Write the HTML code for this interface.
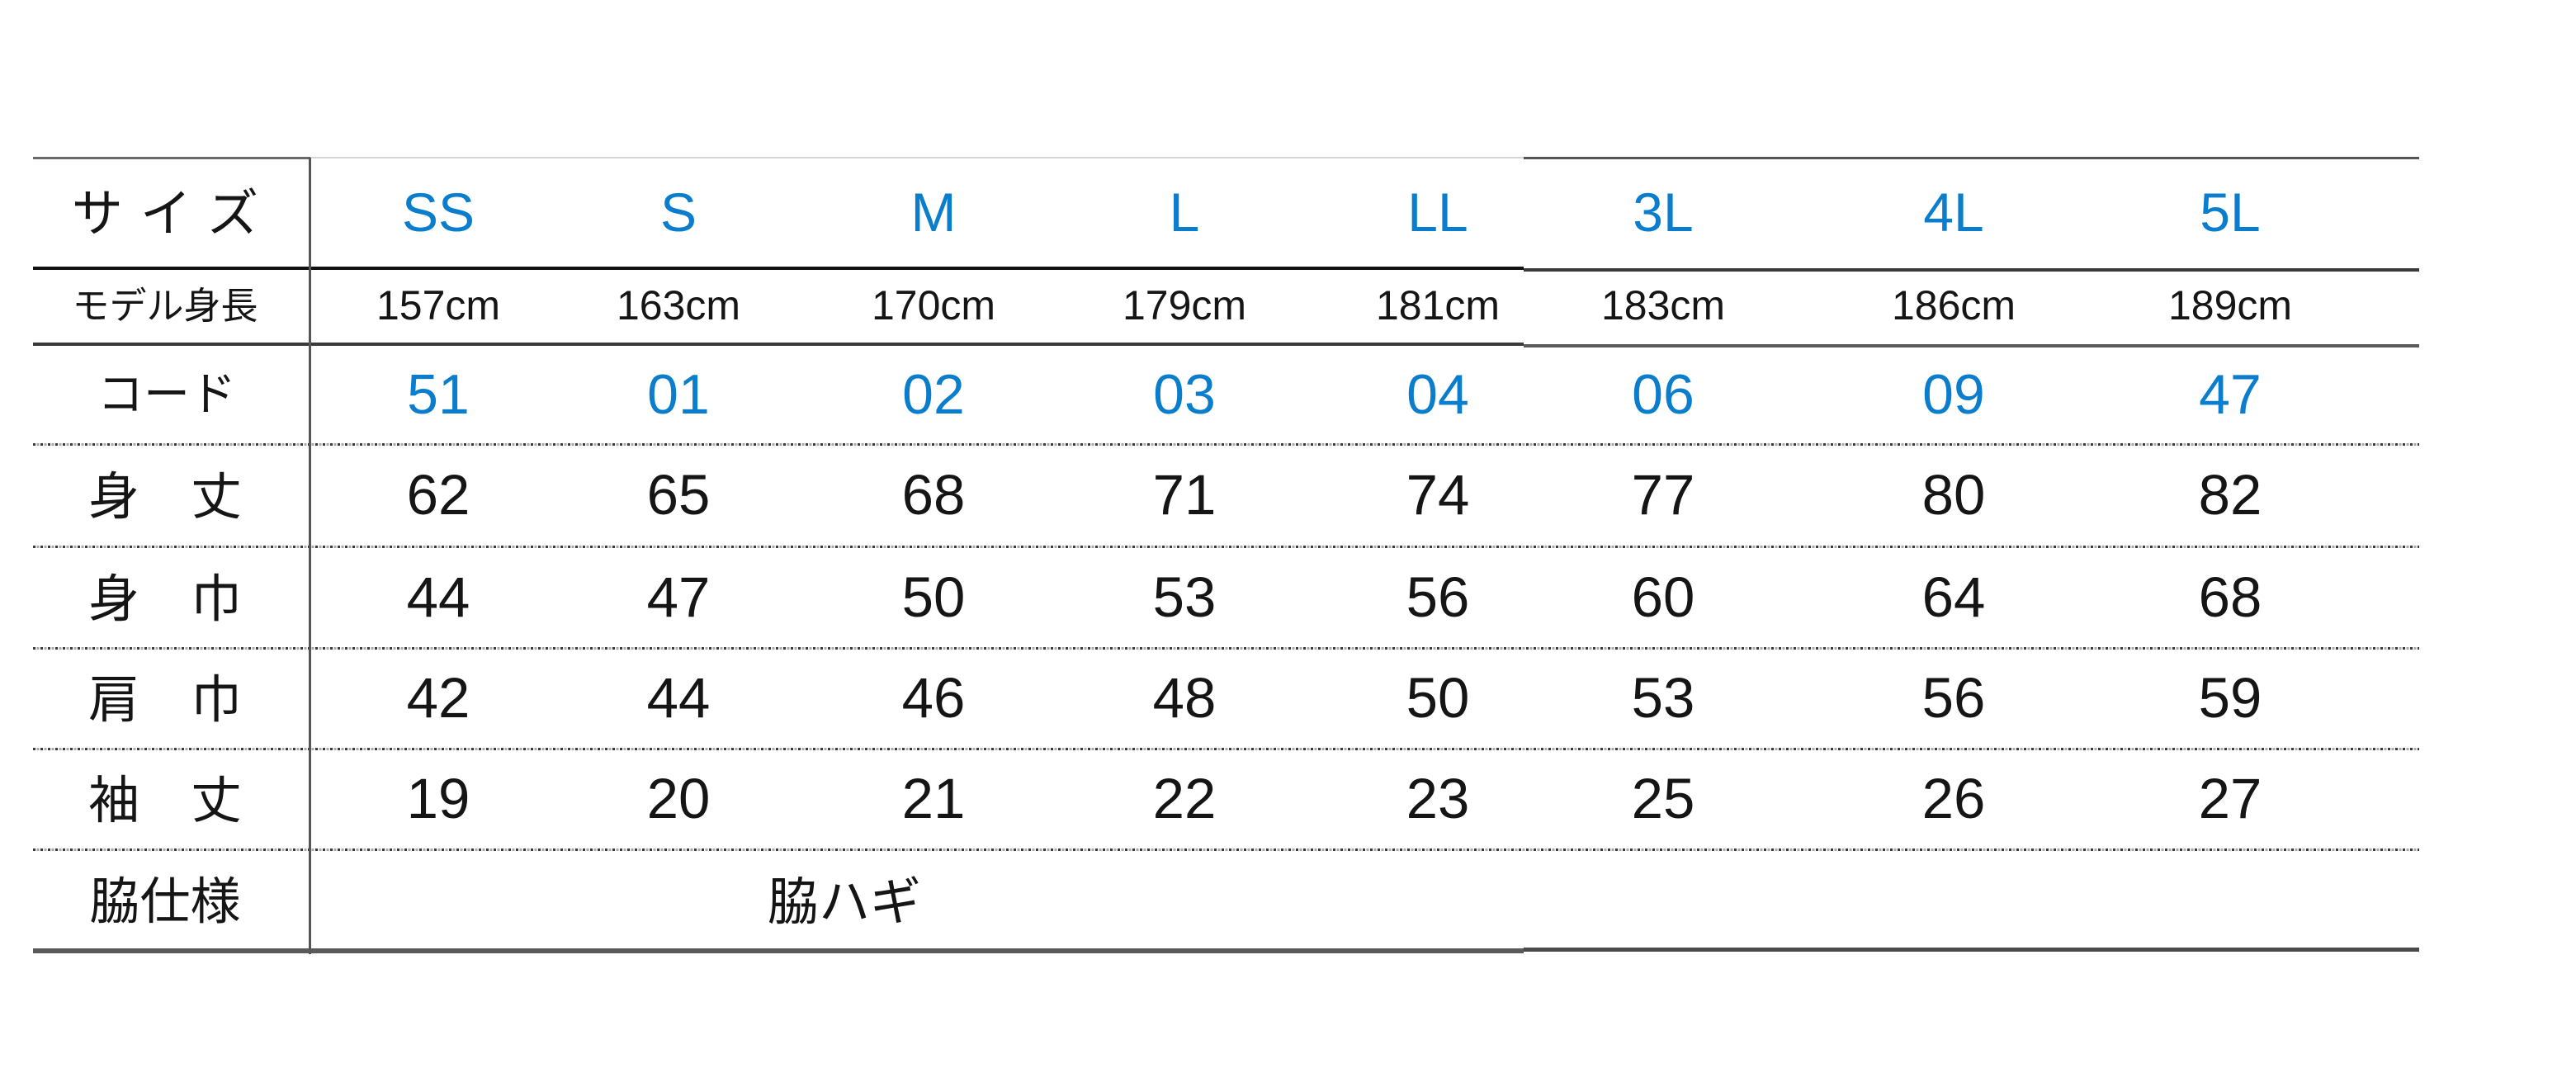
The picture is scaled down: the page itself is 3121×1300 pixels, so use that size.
<!DOCTYPE html>
<html>
<head>
<meta charset="utf-8">
<style>
html,body{margin:0;padding:0;background:#fff;}
body{width:3121px;height:1300px;position:relative;overflow:hidden;}
.t{position:absolute;width:300px;height:100px;line-height:100px;text-align:center;white-space:nowrap;font-family:"Liberation Sans","Noto Sans CJK JP",sans-serif;color:#151515;}
.b{color:#0a7dcc;font-size:66px;}
.c{font-size:50px;}
.n{font-size:69px;}
.j{font-family:"Noto Sans CJK JP","Liberation Sans",sans-serif;}
.l{position:absolute;}
.dot{position:absolute;left:40px;width:2891px;height:3px;background:repeating-linear-gradient(90deg,#3a3a3a 0,#3a3a3a 3px,#fff 3px,#fff 4.5px,#a8a8a8 4.5px,#a8a8a8 7.5px,#fff 7.5px,#fff 9px);}
</style>
</head>
<body>
<!-- top line -->
<div class="l" style="left:40px;top:190px;width:336px;height:3px;background:#6a6a6a;"></div>
<div class="l" style="left:376px;top:190px;width:1470px;height:2px;background:#d4d4d4;"></div>
<div class="l" style="left:1846px;top:190px;width:1085px;height:3px;background:#555;"></div>
<!-- line under size row -->
<div class="l" style="left:40px;top:323px;width:1806px;height:4px;background:#111;"></div>
<div class="l" style="left:1846px;top:325px;width:1085px;height:4px;background:#3a3a3a;"></div>
<!-- line under model row -->
<div class="l" style="left:40px;top:415px;width:1806px;height:4px;background:#3a3a3a;"></div>
<div class="l" style="left:1846px;top:417px;width:1085px;height:4px;background:#5a5a5a;"></div>
<!-- dotted lines -->
<div class="dot" style="top:537px;"></div>
<div class="dot" style="top:661px;"></div>
<div class="dot" style="top:784px;"></div>
<div class="dot" style="top:906px;"></div>
<div class="dot" style="top:1028px;"></div>
<!-- bottom line -->
<div class="l" style="left:40px;top:1149px;width:1806px;height:6px;background:#5a5a5a;"></div>
<div class="l" style="left:1846px;top:1148px;width:1085px;height:5px;background:#4a4a4a;"></div>
<!-- vertical divider -->
<div class="l" style="left:374px;top:191px;width:3px;height:965px;background:#555;"></div>

<!-- labels -->
<div class="t j" style="left:50px;top:203px;font-size:62px;letter-spacing:21px;text-indent:21px;">サイズ</div>
<div class="t j" style="left:50px;top:317px;font-size:45px;">モデル身長</div>
<div class="t j" style="left:52px;top:424px;font-size:56px;">コード</div>
<div class="t j" style="left:50px;top:546px;font-size:62px;">身　丈</div>
<div class="t j" style="left:50px;top:670px;font-size:62px;">身　巾</div>
<div class="t j" style="left:50px;top:792px;font-size:62px;">肩　巾</div>
<div class="t j" style="left:50px;top:914px;font-size:62px;">袖　丈</div>
<div class="t j" style="left:50px;top:1037px;font-size:61px;">脇仕様</div>

<!-- size row -->
<div class="t b" style="left:381px;top:207px;">SS</div>
<div class="t b" style="left:672px;top:207px;">S</div>
<div class="t b" style="left:981px;top:207px;">M</div>
<div class="t b" style="left:1285px;top:207px;">L</div>
<div class="t b" style="left:1592px;top:207px;">LL</div>
<div class="t b" style="left:1865px;top:207px;">3L</div>
<div class="t b" style="left:2217px;top:207px;">4L</div>
<div class="t b" style="left:2552px;top:207px;">5L</div>

<!-- model height row -->
<div class="t c" style="left:381px;top:320px;">157cm</div>
<div class="t c" style="left:672px;top:320px;">163cm</div>
<div class="t c" style="left:981px;top:320px;">170cm</div>
<div class="t c" style="left:1285px;top:320px;">179cm</div>
<div class="t c" style="left:1592px;top:320px;">181cm</div>
<div class="t c" style="left:1865px;top:320px;">183cm</div>
<div class="t c" style="left:2217px;top:320px;">186cm</div>
<div class="t c" style="left:2552px;top:320px;">189cm</div>

<!-- code row -->
<div class="t b" style="left:381px;top:428px;font-size:68px;">51</div>
<div class="t b" style="left:672px;top:428px;font-size:68px;">01</div>
<div class="t b" style="left:981px;top:428px;font-size:68px;">02</div>
<div class="t b" style="left:1285px;top:428px;font-size:68px;">03</div>
<div class="t b" style="left:1592px;top:428px;font-size:68px;">04</div>
<div class="t b" style="left:1865px;top:428px;font-size:68px;">06</div>
<div class="t b" style="left:2217px;top:428px;font-size:68px;">09</div>
<div class="t b" style="left:2552px;top:428px;font-size:68px;">47</div>

<!-- 身丈 -->
<div class="t n" style="left:381px;top:550px;">62</div>
<div class="t n" style="left:672px;top:550px;">65</div>
<div class="t n" style="left:981px;top:550px;">68</div>
<div class="t n" style="left:1285px;top:550px;">71</div>
<div class="t n" style="left:1592px;top:550px;">74</div>
<div class="t n" style="left:1865px;top:550px;">77</div>
<div class="t n" style="left:2217px;top:550px;">80</div>
<div class="t n" style="left:2552px;top:550px;">82</div>

<!-- 身巾 -->
<div class="t n" style="left:381px;top:674px;">44</div>
<div class="t n" style="left:672px;top:674px;">47</div>
<div class="t n" style="left:981px;top:674px;">50</div>
<div class="t n" style="left:1285px;top:674px;">53</div>
<div class="t n" style="left:1592px;top:674px;">56</div>
<div class="t n" style="left:1865px;top:674px;">60</div>
<div class="t n" style="left:2217px;top:674px;">64</div>
<div class="t n" style="left:2552px;top:674px;">68</div>

<!-- 肩巾 -->
<div class="t n" style="left:381px;top:796px;">42</div>
<div class="t n" style="left:672px;top:796px;">44</div>
<div class="t n" style="left:981px;top:796px;">46</div>
<div class="t n" style="left:1285px;top:796px;">48</div>
<div class="t n" style="left:1592px;top:796px;">50</div>
<div class="t n" style="left:1865px;top:796px;">53</div>
<div class="t n" style="left:2217px;top:796px;">56</div>
<div class="t n" style="left:2552px;top:796px;">59</div>

<!-- 袖丈 -->
<div class="t n" style="left:381px;top:918px;">19</div>
<div class="t n" style="left:672px;top:918px;">20</div>
<div class="t n" style="left:981px;top:918px;">21</div>
<div class="t n" style="left:1285px;top:918px;">22</div>
<div class="t n" style="left:1592px;top:918px;">23</div>
<div class="t n" style="left:1865px;top:918px;">25</div>
<div class="t n" style="left:2217px;top:918px;">26</div>
<div class="t n" style="left:2552px;top:918px;">27</div>

<!-- 脇仕様 value -->
<div class="t j" style="left:873px;top:1037px;font-size:62px;">脇ハギ</div>
</body>
</html>
